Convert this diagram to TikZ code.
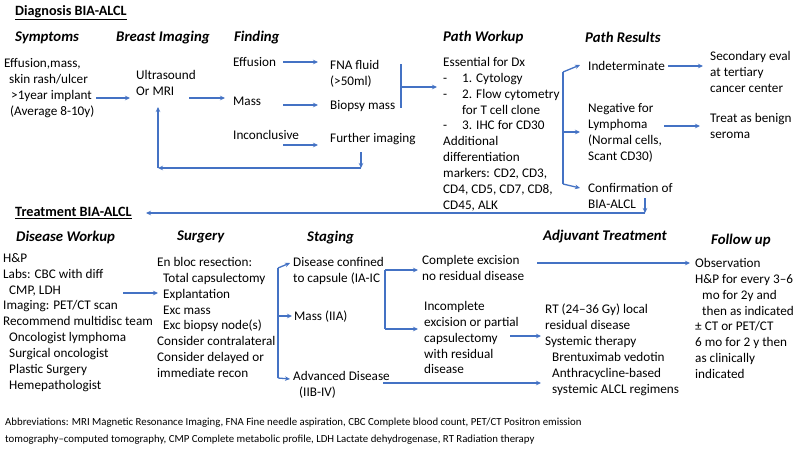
\documentclass[tikz,border=0pt]{standalone}
\usepackage{fontspec}
\setmainfont{Carlito}
\usetikzlibrary{arrows.meta}
\definecolor{ab}{HTML}{4472C4}
\begin{document}
\begin{tikzpicture}[x=1pt,y=-1pt,
 txt/.style={anchor=north west,inner sep=0pt,align=left,font=\fontsize{13.2}{15.9}\selectfont},
 hdr/.style={anchor=west,inner sep=0pt,font=\fontsize{14.8}{16}\selectfont\bfseries\itshape},
 ttl/.style={anchor=west,inner sep=0pt,font=\fontsize{14.2}{16}\selectfont\bfseries},
 arr/.style={draw=ab,line width=1.3pt,-{Stealth[length=5pt,width=4.5pt]}},
 ln/.style={draw=ab,line width=1.3pt}]
\useasboundingbox[fill=white] (0,0) rectangle (800,451);
% ---------- Diagnosis ----------
\node[ttl] (t1) at (15,13) {\underline{Diagnosis BIA-ALCL}};
\node[hdr] (h1) at (15,38) {Symptoms};
\node[hdr] (h2) at (116,38) {Breast Imaging};
\node[hdr] (h3) at (234,38) {Finding};
\node[hdr] (h4) at (443,37) {Path Workup};
\node[hdr] (h5) at (585,37) {Path Results};
\node[txt] (symp) at (4,58) {Effusion,mass,\\\hspace*{5pt}skin rash/ulcer\\\hspace*{7pt}>1year implant\\\hspace*{6pt}(Average 8-10y)};
\node[txt] (us) at (136,70) {Ultrasound\\Or MRI};
\node[txt] (eff) at (233,57) {Effusion};
\node[txt] (mass) at (233,97) {Mass};
\node[txt] (inc) at (233,130) {Inconclusive};
\node[txt] (fna) at (330,60) {FNA fluid\\(>50ml)};
\node[txt] (bio) at (330,100) {Biopsy mass};
\node[txt] (fur) at (330,133) {Further imaging};
\node[txt] (pw) at (443,57) {Essential for Dx\\\makebox[19pt][l]{-}1. Cytology\\\makebox[19pt][l]{-}2. Flow cytometry\\\hspace*{19pt}for T cell clone\\\makebox[19pt][l]{-}3. IHC for CD30\\Additional\\differentiation\\markers: CD2, CD3,\\CD4, CD5, CD7, CD8,\\CD45, ALK};
\node[txt] (ind) at (588,61) {Indeterminate};
\node[txt] (neg) at (588,103) {Negative for\\Lymphoma\\(Normal cells,\\Scant CD30)};
\node[txt] (conf) at (588,183) {Confirmation of\\BIA-ALCL};
\node[txt] (sec) at (710,51) {Secondary eval\\at tertiary\\cancer center};
\node[txt] (ben) at (710,113) {Treat as benign\\seroma};
% arrows diagnosis
\draw[arr] (96,98) -- (130,98);
\draw[arr] (189,98) -- (225,98);
\draw[arr] (283,62) -- (318,62);
\draw[arr] (283,105) -- (318,105);
\draw[arr] (283,145) -- (318,145);
\draw[arr] (361,152) -- (361,168);
\draw[arr] (361,168) -- (158,168);
\draw[arr] (158,168) -- (158,107);
\draw[ln] (401,64) -- (401,108);
\draw[arr] (401,87) -- (437,87);
\draw[ln] (563,72) -- (563,184);
\draw[arr] (563,72) -- (580,65);
\draw[arr] (563,132) -- (580,132);
\draw[arr] (563,184) -- (580,188);
\draw[arr] (668,66) -- (703,66);
\draw[arr] (664,126) -- (700,126);
\draw[arr] (645,198) -- (645,213);
\draw[arr] (645,213) -- (146,213);
% ---------- Treatment ----------
\node[ttl] (t2) at (15,213) {\underline{Treatment BIA-ALCL}};
\node[hdr] (g1) at (16,237) {Disease Workup};
\node[hdr] (g2) at (177,237) {Surgery};
\node[hdr] (g3) at (307,238) {Staging};
\node[hdr] (g4) at (543,237) {Adjuvant Treatment};
\node[hdr] (g5) at (711,240) {Follow up};
\node[txt] (dw) at (3,253) {H\&P\\Labs: CBC with diff\\\hspace*{6pt}CMP, LDH\\Imaging: PET/CT scan\\Recommend multidisc team\\\hspace*{6pt}Oncologist lymphoma\\\hspace*{6pt}Surgical oncologist\\\hspace*{6pt}Plastic Surgery\\\hspace*{6pt}Hemepathologist};
\node[txt] (surg) at (157,257) {En bloc resection:\\\hspace*{6pt}Total capsulectomy\\\hspace*{6pt}Explantation\\\hspace*{6pt}Exc mass\\\hspace*{6pt}Exc biopsy node(s)\\Consider contralateral\\Consider delayed or\\immediate recon};
\node[txt] (s1) at (293,257) {Disease confined\\to capsule (IA-IC};
\node[txt] (s2) at (294,311) {Mass (IIA)};
\node[txt] (s3) at (293,371) {Advanced Disease\\\hspace*{6pt}(IIB-IV)};
\node[txt] (ce) at (422,255) {Complete excision\\no residual disease};
\node[txt] (ie) at (424,301) {Incomplete\\excision or partial\\capsulectomy\\with residual\\disease};
\node[txt] (adj) at (545,304) {RT (24–36 Gy) local\\residual disease\\Systemic therapy\\\hspace*{7pt}Brentuximab vedotin\\\hspace*{7pt}Anthracycline-based\\\hspace*{7pt}systemic ALCL regimens};
\node[txt] (fu) at (695,258) {Observation\\H\&P for every 3–6\\\hspace*{7pt}mo for 2y and\\\hspace*{7pt}then as indicated\\± CT or PET/CT\\6 mo for 2 y then\\as clinically\\indicated};
\draw[arr] (123,293) -- (158,293);
\draw[ln] (278,268) -- (278,378);
\draw[arr] (278,268) -- (290,263);
\draw[arr] (278,316) -- (292,316);
\draw[arr] (278,378) -- (290,379);
\draw[ln] (385,270) -- (385,329);
\draw[arr] (385,270) -- (418,270);
\draw[arr] (385,329) -- (418,329);
\draw[arr] (537,263) -- (690,263);
\draw[arr] (510,336) -- (541,336);
\draw[arr] (383,383) -- (541,383);
\node[anchor=north west,inner sep=0pt,align=left,font=\fontsize{10.8}{17}\selectfont] (abb) at (5,418) {Abbreviations: MRI Magnetic Resonance Imaging, FNA Fine needle aspiration, CBC Complete blood count, PET/CT Positron emission\\tomography–computed tomography, CMP Complete metabolic profile, LDH Lactate dehydrogenase, RT Radiation therapy};
\end{tikzpicture}
\end{document}
